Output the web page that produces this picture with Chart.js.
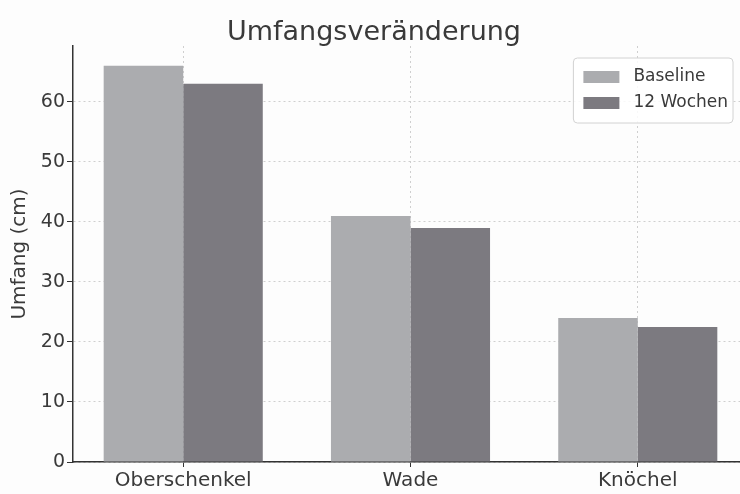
<!DOCTYPE html>
<html>
<head>
<meta charset="utf-8">
<script src="https://cdn.jsdelivr.net/npm/chart.js@4"></script>
<style>
  html, body { margin: 0; padding: 0; background: #fdfdfd; overflow: hidden; }
  #wrap { width: 740px; height: 494px; overflow: hidden; }
</style>
</head>
<body>
<div id="wrap"><canvas id="chart" width="826" height="494"></canvas></div>
<script>
const categories = ['Oberschenkel', 'Wade', 'Knöchel'];
const baseline = [66, 41, 24];
const weeks12 = [63, 39, 22.5];
const yTicks = [0, 10, 20, 30, 40, 50, 60];
const seriesNames = ['Baseline', '12 Wochen'];

const textColor = '#3a3a3a';
const gridColor = '#cfcfcf';
const font = 'DejaVu Sans';

// legend box drawn inside the plot, top right
const boxLegend = {
  id: 'boxLegend',
  afterDraw(chart) {
    const ctx = chart.ctx;
    const area = chart.chartArea;
    ctx.save();
    ctx.font = '17px "' + font + '"';
    const sets = chart.data.datasets;
    const textW = Math.max(...sets.map((d) => ctx.measureText(d.label).width));
    const w = 10 + 36 + 14 + textW + 5;
    const h = 65;
    const x = area.right - 15 - w;
    const y = area.top + 12;
    ctx.beginPath();
    ctx.roundRect(x, y, w, h, 4);
    ctx.fillStyle = 'rgba(255,255,255,0.85)';
    ctx.fill();
    ctx.strokeStyle = '#d2d2d2';
    ctx.lineWidth = 1;
    ctx.stroke();
    sets.forEach((d, i) => {
      const cy = y + 19 + i * 26;
      ctx.fillStyle = d.backgroundColor;
      ctx.fillRect(x + 10, cy - 6, 36, 12);
      ctx.fillStyle = textColor;
      ctx.textBaseline = 'middle';
      ctx.fillText(d.label, x + 60, cy);
    });
    ctx.restore();
  }
};

new Chart(document.getElementById('chart'), {
  type: 'bar',
  data: {
    datasets: [
      {
        label: seriesNames[0],
        data: baseline.map((v, i) => ({ x: i, y: v })),
        backgroundColor: '#abacaf',
      },
      {
        label: seriesNames[1],
        data: weeks12.map((v, i) => ({ x: i, y: v })),
        backgroundColor: '#7c7a80',
      },
    ],
  },
  options: {
    responsive: false,
    animation: false,
    devicePixelRatio: 1,
    categoryPercentage: 0.7,
    barPercentage: 1.0,
    borderWidth: 0,
    layout: { padding: { left: 0, right: 78, top: 0, bottom: 0 } },
    plugins: {
      legend: { display: false },
      tooltip: { enabled: false },
      title: {
        display: true,
        text: 'Umfangsveränderung',
        color: textColor,
        font: { family: font, size: 27, weight: 'normal', lineHeight: 1.0 },
        padding: { top: 19, bottom: 0 },
      },
    },
    scales: {
      x: {
        type: 'linear',
        offset: false,
        min: -0.485,
        max: 2.485,
        grid: { offset: false, color: gridColor, tickColor: '#333', tickLength: 5 },
        border: { color: '#333', width: 1.5, dash: [2, 3] },
        ticks: {
          stepSize: 1,
          includeBounds: false,
          color: textColor,
          padding: 2,
          font: { family: font, size: 20 },
          callback: (v) => categories[v] ?? '',
        },
        afterFit: (scale) => { scale.height = 32; },
      },
      y: {
        min: 0,
        max: 69.3,
        grid: { color: gridColor, tickColor: '#333', tickLength: 6 },
        border: { color: '#333', width: 1.5, dash: [2, 3] },
        ticks: {
          stepSize: 10,
          includeBounds: false,
          color: textColor,
          padding: 2,
          font: { family: font, size: 19 },
        },
        afterBuildTicks: (scale) => { scale.ticks = yTicks.map((v) => ({ value: v })); },
        title: {
          display: true,
          text: 'Umfang (cm)',
          color: textColor,
          font: { family: font, size: 20 },
          padding: { top: 8, bottom: 0 },
        },
        afterFit: (scale) => { scale.width = 73; },
      },
    },
  },
  plugins: [boxLegend],
});
</script>
</body>
</html>
